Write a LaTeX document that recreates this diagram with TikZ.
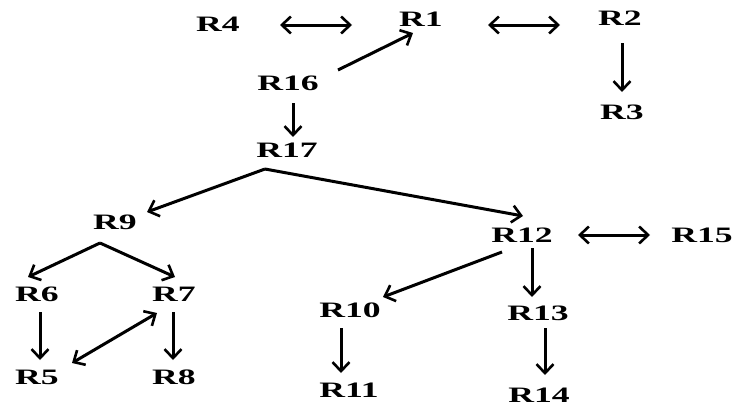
\documentclass[tikz,border=0pt]{standalone}
\usepackage{fontspec}
\setmainfont{Liberation Serif}[FakeStretch=1.62]
\usetikzlibrary{arrows.meta}
\begin{document}
\begin{tikzpicture}[x=1pt,y=-1pt,
  lab/.style={inner sep=0pt,font=\fontsize{22}{22}\selectfont\bfseries},
  tip/.tip={Straight Barb[length=9pt,width=17pt,line width=2.6pt]},
  arr/.style={line width=3pt,-tip},
  darr/.style={line width=3pt,tip-tip}]
\useasboundingbox (0,0) rectangle (737,407);
\node[lab] (R4) at (218,24) {R4};
\node[lab] (R1) at (421,19) {R1};
\node[lab] (R2) at (620,18) {R2};
\node[lab] (R3) at (622,112) {R3};
\node[lab] (R16) at (288,83) {R16};
\node[lab] (R17) at (287,150) {R17};
\node[lab] (R9) at (115,222) {R9};
\node[lab] (R12) at (522,235) {R12};
\node[lab] (R15) at (702,235) {R15};
\node[lab] (R6) at (37,294) {R6};
\node[lab] (R7) at (174,294) {R7};
\node[lab] (R5) at (37,377) {R5};
\node[lab] (R8) at (174,377) {R8};
\node[lab] (R10) at (350,310) {R10};
\node[lab] (R11) at (349,390) {R11};
\node[lab] (R13) at (538,313) {R13};
\node[lab] (R14) at (539,395) {R14};

\draw[darr] ([shift={(62,1)}]R4.center) -- ([shift={(-69,6)}]R1.center);
\draw[darr] ([shift={(67,6)}]R1.center) -- ([shift={(-60,7)}]R2.center);
\draw[arr] ([shift={(50,-13)}]R16.center) -- ([shift={(-8,14)}]R1.center);
\draw[arr] ([shift={(2,25)}]R2.center) -- ([shift={(0,-20)}]R3.center);
\draw[arr] ([shift={(5,20)}]R16.center) -- ([shift={(6,-13)}]R17.center);
\draw[arr] ([shift={(-22,19)}]R17.center) -- ([shift={(32,-10)}]R9.center);
\draw[arr] ([shift={(-22,19)}]R17.center) -- ([shift={(1,-19)}]R12.center);
\draw[arr] ([shift={(-15,21)}]R9.center) -- ([shift={(-9,-17)}]R6.center);
\draw[arr] ([shift={(-15,21)}]R9.center) -- ([shift={(1,-17)}]R7.center);
\draw[arr] ([shift={(3,18)}]R6.center) -- ([shift={(3,-17)}]R5.center);
\draw[arr] ([shift={(-1,18)}]R7.center) -- ([shift={(-1,-17)}]R8.center);
\draw[darr] ([shift={(35,-14)}]R5.center) -- ([shift={(-17,19)}]R7.center);
\draw[darr] ([shift={(56,0)}]R12.center) -- ([shift={(-52,0)}]R15.center);
\draw[arr] ([shift={(-20,17)}]R12.center) -- ([shift={(33,-13)}]R10.center);
\draw[arr] ([shift={(10,13)}]R12.center) -- ([shift={(-6,-16)}]R13.center);
\draw[arr] ([shift={(-9,18)}]R10.center) -- ([shift={(-8,-17)}]R11.center);
\draw[arr] ([shift={(7,15)}]R13.center) -- ([shift={(6,-20)}]R14.center);
\end{tikzpicture}
\end{document}
